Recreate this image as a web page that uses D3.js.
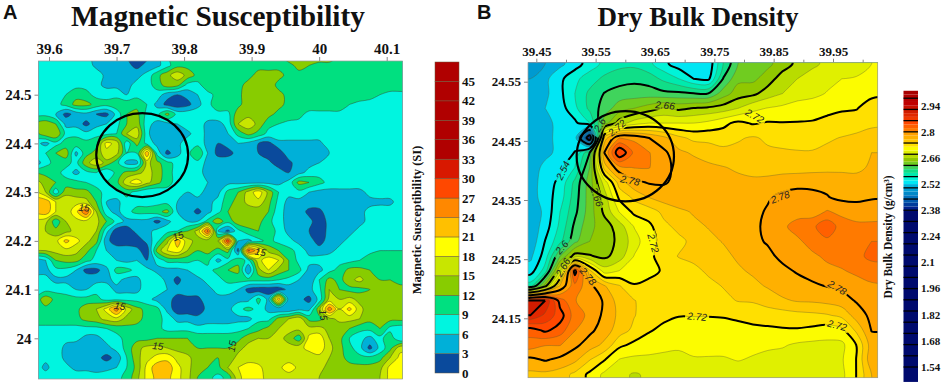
<!DOCTYPE html>
<html>
<head>
<meta charset="utf-8">
<script src="https://cdn.jsdelivr.net/npm/d3@7"></script>
<style>
body { margin: 0; background: #fff; }
text { font-family: "Liberation Serif", serif; font-weight: bold; fill: #111; }
.letter { font-family: "Liberation Sans", sans-serif; }
.clabel { font-family: "Liberation Sans", sans-serif; font-style: italic; font-weight: normal; fill: #222; }
</style>
</head>
<body>
<script>
// magnetic susceptibility (SI)
var lonStartA = 39.58, lonStepA = 0.015, latStartA = 24.58, latStepA = 0.02;
var suscRows = [
[8,8,8,8,8,7,5,5,5,3,2,2,5,9,11,11,11,11,11,11,11,11,11,11,12,14,14,14,14,14,12,11,11,11,11,11,11],
[8,8,8,8,8,8,5,5,5,4,2,4,5,8,11,11,10,10,10,10,10,10,11,11,11,11,13,12,11,11,11,11,11,11,11,11,11],
[8,8,8,8,8,8,8,5,5,5,5,7,11,14,17,14,11,10,10,10,10,11,13,13,13,11,11,11,11,11,11,11,11,11,11,11,11],
[8,8,8,8,8,8,7,5,5,5,7,8,10,14,13,8,8,11,11,11,11,13,14,14,11,11,11,11,11,11,11,11,11,11,11,11,11],
[8,8,8,9,11,10,8,8,8,6,8,8,8,4,3,4,6,8,10,11,11,14,14,14,13,11,11,11,11,11,11,11,11,10,9,8,8],
[8,8,8,10,13,13,11,10,11,11,11,9,5,2,1,2,5,8,11,11,11,14,14,14,13,11,11,11,11,11,11,9,8,8,8,8,8],
[8,8,6,2,4,5,3,2,7,12,13,8,8,13,8,8,8,8,8,8,14,14,14,13,11,11,10,8,8,8,8,8,8,8,8,8,8],
[13,14,12,5,5,2,5,6,8,12,14,7,5,5,6,8,8,5,5,7,15,17,14,10,9,8,8,8,8,8,8,8,8,8,8,8,8],
[11,14,15,8,8,7,8,8,9,15,17,7,3,5,5,5,8,5,5,6,10,13,11,8,8,8,8,8,8,8,8,8,8,8,8,8,8],
[7,5,8,10,11,10,11,19,17,7,13,8,5,5,5,8,8,5,3,4,6,5,3,2,5,5,5,5,5,8,8,8,8,8,8,8,8],
[8,9,12,14,5,11,13,17,16,9,9,24,8,2,5,8,12,6,2,2,4,5,3,1,1,5,5,5,5,6,8,8,8,8,8,8,8],
[4,8,10,10,8,14,17,14,10,5,5,16,13,10,8,7,8,5,5,5,5,5,5,4,1,2,5,5,6,8,8,8,8,8,8,8,8],
[12,11,10,8,5,8,9,6,10,13,14,16,14,10,8,7,7,5,5,5,5,5,5,5,5,3,5,7,8,8,8,8,8,8,8,8,8],
[16,14,12,10,10,9,8,9,11,17,20,16,13,10,8,7,7,6,5,5,5,5,5,5,5,7,13,12,10,8,8,8,8,8,8,8,8],
[19,15,7,14,13,13,10,8,8,10,8,6,6,8,8,6,7,5,5,10,12,16,20,14,9,7,8,6,5,5,5,5,5,7,8,8,8],
[23,23,18,17,17,16,12,6,5,8,8,8,8,8,6,5,5,5,7,11,13,16,17,13,8,5,5,5,5,5,5,5,5,5,5,5,8],
[22,23,18,16,20,27,15,7,5,8,10,10,11,13,6,5,2,5,8,12,13,13,13,12,7,5,5,2,2,5,5,5,5,7,8,8,8],
[17,16,10,15,17,17,16,12,8,5,5,5,2,5,8,6,6,10,14,10,14,14,13,10,7,5,5,4,1,4,5,5,5,7,8,8,8],
[16,15,13,14,16,16,15,7,1,1,4,5,7,8,9,12,16,28,6,2,8,11,12,11,8,5,5,3,1,4,5,5,7,8,8,8,8],
[16,16,17,22,19,16,13,4,1,1,1,4,8,14,23,16,14,13,15,30,6,5,8,10,8,7,5,5,1,5,5,7,8,8,8,8,8],
[15,15,16,17,16,13,9,6,5,5,4,1,13,18,20,15,12,13,11,13,2,28,22,14,12,10,8,5,5,5,7,8,8,8,9,9,9],
[4,6,12,13,13,10,8,8,6,5,6,3,7,10,10,10,9,10,5,8,11,8,17,20,18,12,8,7,7,8,8,8,9,11,11,11,11],
[4,5,8,8,6,2,2,5,10,10,8,7,5,5,5,6,8,8,10,12,13,3,14,18,14,12,10,5,5,8,10,13,13,12,11,11,11],
[8,7,5,5,5,5,5,5,7,5,5,8,8,5,2,5,5,7,8,10,10,10,10,10,9,8,6,3,9,13,11,14,16,13,12,12,11],
[7,8,8,8,6,6,8,8,5,5,5,8,8,6,4,5,5,5,7,7,6,2,1,1,1,4,5,5,8,15,12,11,11,12,12,12,13],
[10,14,11,10,10,10,10,8,8,8,8,7,5,4,2,2,2,5,5,5,5,5,10,5,24,4,4,2,7,16,15,16,14,13,13,13,13],
[11,11,11,11,11,14,15,19,26,17,13,11,10,5,1,1,1,4,5,5,8,10,8,5,3,3,5,5,14,26,18,22,16,13,13,13,13],
[11,11,11,11,11,13,14,16,17,14,13,11,10,8,5,5,4,5,5,5,5,5,8,8,13,15,17,11,11,14,16,16,15,13,13,13,13],
[8,8,8,8,8,8,8,9,10,11,11,11,10,8,8,8,7,7,7,7,8,9,11,13,15,16,16,16,16,14,13,12,10,10,12,8,7],
[8,8,8,7,7,5,5,7,8,10,11,11,12,12,12,12,11,11,11,11,11,14,15,15,16,14,10,19,20,15,13,9,7,5,8,11,6],
[8,8,8,5,4,4,4,5,7,10,14,16,16,15,14,13,12,12,12,12,14,16,16,16,16,16,17,19,20,16,13,10,7,2,7,11,17],
[8,7,8,5,4,4,4,2,4,9,14,17,19,20,17,16,13,12,12,13,16,16,16,16,16,16,16,16,17,15,13,11,10,10,11,15,19],
[8,5,8,7,5,5,5,5,6,9,13,19,23,23,19,16,13,12,11,15,18,20,19,16,17,20,17,16,16,14,13,13,13,13,14,19,20],
[8,8,8,8,8,8,7,8,8,10,14,19,22,22,19,16,12,10,8,10,17,20,20,16,16,16,16,16,15,13,13,13,13,13,15,19,20]
];

// dry bulk density (g/cm3)
var lonStartB = 39.44, lonStepB = 0.025, latStartB = 24.58, latStepB = 0.025;
var densityRows = [
[2.49,2.50,2.515,2.53,2.55,2.565,2.575,2.575,2.565,2.545,2.53,2.522,2.525,2.58,2.62,2.625,2.635,2.65,2.665,2.675,2.685,2.69,2.695,2.70],
[2.50,2.515,2.535,2.555,2.57,2.585,2.59,2.595,2.59,2.575,2.56,2.54,2.535,2.601,2.635,2.635,2.65,2.67,2.68,2.69,2.695,2.70,2.701,2.705],
[2.505,2.515,2.535,2.56,2.585,2.601,2.61,2.61,2.61,2.605,2.605,2.601,2.601,2.63,2.65,2.655,2.67,2.68,2.69,2.695,2.701,2.705,2.71,2.715],
[2.51,2.52,2.53,2.555,2.585,2.61,2.63,2.64,2.65,2.662,2.655,2.661,2.665,2.67,2.68,2.695,2.701,2.705,2.71,2.71,2.715,2.718,2.719,2.73],
[2.51,2.515,2.525,2.535,2.56,2.63,2.67,2.69,2.70,2.70,2.70,2.70,2.705,2.715,2.725,2.718,2.722,2.721,2.721,2.722,2.725,2.727,2.73,2.735],
[2.505,2.515,2.525,2.53,2.39,2.75,2.80,2.795,2.78,2.765,2.745,2.735,2.735,2.73,2.738,2.742,2.737,2.735,2.735,2.735,2.737,2.741,2.745,2.75],
[2.505,2.515,2.525,2.541,2.60,2.781,2.86,2.815,2.801,2.785,2.765,2.757,2.75,2.747,2.745,2.745,2.743,2.742,2.741,2.741,2.745,2.75,2.755,2.76],
[2.51,2.525,2.535,2.56,2.62,2.75,2.795,2.801,2.801,2.785,2.775,2.77,2.765,2.761,2.757,2.755,2.753,2.752,2.752,2.752,2.753,2.755,2.757,2.762],
[2.51,2.53,2.545,2.585,2.63,2.69,2.75,2.775,2.782,2.782,2.775,2.77,2.77,2.765,2.765,2.763,2.765,2.77,2.772,2.775,2.775,2.77,2.765,2.775],
[2.51,2.53,2.55,2.59,2.63,2.67,2.725,2.745,2.761,2.77,2.775,2.775,2.77,2.77,2.77,2.772,2.778,2.785,2.79,2.785,2.781,2.775,2.775,2.778],
[2.505,2.525,2.56,2.595,2.63,2.665,2.701,2.725,2.73,2.745,2.755,2.762,2.765,2.768,2.772,2.775,2.782,2.785,2.79,2.79,2.802,2.795,2.79,2.79],
[2.505,2.53,2.565,2.605,2.635,2.65,2.67,2.701,2.715,2.735,2.745,2.755,2.761,2.765,2.77,2.775,2.785,2.795,2.81,2.815,2.835,2.81,2.805,2.805],
[2.505,2.541,2.575,2.615,2.64,2.65,2.665,2.69,2.715,2.725,2.735,2.745,2.755,2.761,2.77,2.775,2.782,2.79,2.795,2.81,2.815,2.81,2.81,2.82],
[2.515,2.55,2.62,2.67,2.662,2.655,2.67,2.701,2.715,2.73,2.741,2.745,2.75,2.755,2.763,2.77,2.775,2.785,2.79,2.795,2.805,2.81,2.815,2.825],
[2.53,2.57,2.68,2.85,2.745,2.69,2.701,2.705,2.715,2.722,2.73,2.735,2.743,2.75,2.757,2.763,2.77,2.775,2.782,2.787,2.793,2.798,2.805,2.81],
[2.57,2.65,2.76,2.815,2.785,2.761,2.741,2.722,2.725,2.725,2.725,2.73,2.735,2.741,2.747,2.755,2.762,2.77,2.772,2.777,2.781,2.785,2.79,2.797],
[2.90,2.90,2.83,2.801,2.79,2.778,2.75,2.741,2.73,2.725,2.721,2.725,2.73,2.735,2.741,2.742,2.75,2.757,2.762,2.763,2.766,2.772,2.782,2.79],
[2.90,2.875,2.85,2.81,2.795,2.775,2.755,2.741,2.73,2.725,2.721,2.721,2.721,2.722,2.725,2.728,2.728,2.73,2.733,2.735,2.738,2.745,2.77,2.785],
[2.83,2.845,2.83,2.801,2.785,2.77,2.75,2.735,2.722,2.715,2.71,2.71,2.71,2.71,2.712,2.715,2.717,2.718,2.718,2.715,2.71,2.715,2.745,2.781],
[2.81,2.801,2.801,2.785,2.77,2.755,2.725,2.715,2.71,2.705,2.703,2.707,2.707,2.707,2.706,2.705,2.703,2.702,2.697,2.695,2.695,2.695,2.721,2.77],
[2.775,2.782,2.775,2.765,2.741,2.721,2.699,2.695,2.695,2.695,2.695,2.698,2.698,2.698,2.701,2.698,2.695,2.692,2.69,2.69,2.688,2.698,2.721,2.775],
[2.755,2.755,2.75,2.735,2.715,2.695,2.685,2.678,2.683,2.69,2.69,2.69,2.69,2.69,2.69,2.69,2.69,2.69,2.69,2.69,2.69,2.695,2.721,2.76]
];

// colour classes
var levelsA = [0,3,6,9,12,15,18,21,24,27,30,33,36,39,42,45];
var colorsA = ["#0a4a9c","#00b0d8","#00f5e0","#00e080","#88cc00","#c8e600","#ffff00","#ffc000","#ff8800","#ff4800","#d81800","#b00000","#b00000","#b00000","#b00000","#b00000"];
var levelsB = [1.46,2.38,2.40,2.42,2.44,2.46,2.48,2.50,2.52,2.54,2.56,2.58,2.60,2.62,2.64,2.66,2.68,2.70,2.72,2.74,2.76,2.78,2.80,2.82,2.84,2.86,2.88,2.90,2.92,2.94,2.96,2.98,3.00];
var colorsB = ["#000a6e","#00208c","#003c9c","#0058ac","#0070bc","#0088c8","#009ad0","#00b0dc","#00e6f4","#00f4d8","#00eaae","#10de88","#40d45c","#70cc20","#90c800","#b8dc00","#e0f000","#fcfc00","#ffe000","#ffc800","#ffb000","#ffa000","#ff7a00","#ff6000","#ff4800","#f03800","#e02800","#d01c00","#c81000","#c00000","#b80000","#b00000","#a80000"];
var heavyB = [2.42,2.48,2.54,2.60,2.66,2.72,2.78,2.84,2.90,2.96];
var barSepB = [1.54,1.60,1.66,1.72,1.78,1.84,1.90,1.96,2.02,2.08,2.14,2.20,2.26,2.32,2.38,2.44,2.50,2.56,2.62,2.68,2.74,2.80,2.86,2.92,2.98];

// axes
var lonTicksA = [39.6,39.7,39.8,39.9,40,40.1];
var latTicksA = [24.5,24.4,24.3,24.2,24.1,24];
var lonTicksB = [39.45,39.55,39.65,39.75,39.85,39.95];
var lonMinorB = [39.5,39.6,39.7,39.8,39.9,40];
var latTicksB = [24.55,24.45,24.35,24.25,24.15];
var barTicksA = [0,3,6,9,12,15,18,21,24,27,30,33,36,39,42,45];
var barTicksB = [1.54,1.68,1.82,1.96,2.1,2.24,2.38,2.52,2.66,2.8,2.94];

// line labels: lon, lat, angle, text
var labelsA = [
[39.652,24.268,5,"15"],[39.705,24.066,10,"15"],[39.761,23.984,5,"15"],[39.791,24.210,-20,"15"],
[39.913,24.177,10,"15"],[40.006,24.048,80,"15"],[39.871,23.984,-80,"15"]
];
var labelsB = [
[39.495,24.400,-65,"2.54"],[39.586,24.472,-40,"2.72"],[39.667,24.510,5,"2.66"],[39.608,24.383,12,"2.78"],
[39.818,24.492,30,"2.72"],[39.861,24.355,-20,"2.78"],[39.552,24.355,70,"2.66"],[39.493,24.270,-50,"2.6"],
[39.495,24.236,-60,"2.66"],[39.647,24.277,75,"2.72"],[39.537,24.221,50,"2.78"],[39.721,24.153,5,"2.72"],
[39.957,24.202,30,"2.78"],[39.957,24.138,15,"2.72"],[39.557,24.477,-60,"2.6"]
];

var svg = d3.select("body").append("svg").attr("width", 941).attr("height", 385);

var xA = d3.scaleLinear().domain([39.6,40.1]).range([49,386.7]);
var yA = d3.scaleLinear().domain([24.5,24]).range([94.7,338.3]);
var xB = d3.scaleLinear().domain([39.45,39.95]).range([536.3,833]);
var yB = d3.scaleLinear().domain([24.55,24.15]).range([81.7,318.3]);

var smooth = d3.line().curve(d3.curveCatmullRomClosed.alpha(0.5));

// contour rings as a smoothed path, grid gets one repeated cell all round so the edge falls outside the clip
function fieldPaths(rows, levels, lon0, lonStep, lat0, latStep, x, y) {
    var nx = rows[0].length + 2, ny = rows.length + 2;
    var flat = [];
    for (var j = 0; j < ny; j++) {
        var r = rows[Math.min(rows.length - 1, Math.max(0, j - 1))];
        for (var i = 0; i < nx; i++) flat.push(r[Math.min(r.length - 1, Math.max(0, i - 1))]);
    }
    return d3.contours().size([nx, ny]).thresholds(levels)(flat).map(function(c) {
        var d = "";
        c.coordinates.forEach(function(poly) {
            poly.forEach(function(ring) {
                d += smooth(ring.slice(0, -1).map(function(p) {
                    return [x(lon0 + (p[0] - 1.5) * lonStep), y(lat0 - (p[1] - 1.5) * latStep)];
                }));
            });
        });
        return {value: c.value, d: d};
    });
}

function panel(id, box) {
    svg.append("clipPath").attr("id", id).append("rect")
        .attr("x", box[0]).attr("y", box[1]).attr("width", box[2] - box[0]).attr("height", box[3] - box[1]);
    return svg.append("g").attr("clip-path", "url(#" + id + ")");
}

function axes(x, y, lonTicks, latTicks, box, fontSize) {
    var top = svg.append("g").attr("transform", "translate(0," + box[1] + ")")
        .call(d3.axisTop(x).tickValues(lonTicks).tickFormat(String).tickSize(4).tickPadding(3));
    var left = svg.append("g").attr("transform", "translate(" + box[0] + ",0)")
        .call(d3.axisLeft(y).tickValues(latTicks).tickFormat(String).tickSize(4).tickPadding(3));
    [top, left].forEach(function(a) {
        a.select(".domain").remove();
        a.selectAll("line").attr("stroke", "#888");
        a.selectAll("text").style("font-family", '"Liberation Serif", serif').style("font-weight", "bold")
            .style("font-size", fontSize + "px").attr("fill", "#111");
    });
    svg.append("rect").attr("x", box[0]).attr("y", box[1]).attr("width", box[2] - box[0]).attr("height", box[3] - box[1])
        .attr("fill", "none").attr("stroke", "#9a9a9a").attr("stroke-width", 0.7);
}

// Panel A
var boxA = [38.5,61,402.5,379];
var gA = panel("clipA", boxA);
var pathsA = fieldPaths(suscRows, levelsA, lonStartA, lonStepA, latStartA, latStepA, xA, yA);
gA.selectAll("path.fill").data(pathsA).enter().append("path").attr("class", "fill")
    .attr("d", function(d) { return d.d; })
    .attr("fill", function(d, i) { return colorsA[i]; })
    .attr("fill-rule", "evenodd");
gA.selectAll("path.line").data(pathsA.slice(1)).enter().append("path").attr("class", "line")
    .attr("d", function(d) { return d.d; })
    .attr("fill", "none").attr("stroke", "#3a3a2a").attr("stroke-width", 0.45);
gA.selectAll("text").data(labelsA).enter().append("text").attr("class", "clabel")
    .attr("transform", function(d) { return "translate(" + xA(d[0]) + "," + yA(d[1]) + ") rotate(" + d[2] + ")"; })
    .attr("text-anchor", "middle").attr("dy", "0.35em").style("font-size", "10px")
    .text(function(d) { return d[3]; });
gA.append("ellipse").attr("cx", xA(39.738)).attr("cy", yA(24.376))
    .attr("rx", xA(39.738 + 0.068) - xA(39.738)).attr("ry", yA(24.376 - 0.0862) - yA(24.376))
    .attr("fill", "none").attr("stroke", "#000").attr("stroke-width", 2.2);
axes(xA, yA, lonTicksA, latTicksA, boxA, 15);

// Panel B
var boxB = [528,62.7,877.7,377.7];
var gB = panel("clipB", boxB);
var pathsB = fieldPaths(densityRows, levelsB, lonStartB, lonStepB, latStartB, latStepB, xB, yB);
gB.selectAll("path.fill").data(pathsB).enter().append("path").attr("class", "fill")
    .attr("d", function(d) { return d.d; })
    .attr("fill", function(d, i) { return colorsB[i]; })
    .attr("fill-rule", "evenodd");
gB.selectAll("path.line").data(pathsB.slice(1)).enter().append("path").attr("class", "line")
    .attr("d", function(d) { return d.d; })
    .attr("fill", "none").attr("stroke", "#5a5a30").attr("stroke-width", 0.45).attr("stroke-opacity", 0.8);

// holes in the heavy lines where the labels sit
var mask = svg.append("mask").attr("id", "gaps").attr("maskUnits", "userSpaceOnUse")
    .attr("x", 0).attr("y", 0).attr("width", 941).attr("height", 385);
mask.append("rect").attr("width", 941).attr("height", 385).attr("fill", "#fff");
mask.selectAll("rect.gap").data(labelsB).enter().append("rect").attr("class", "gap")
    .attr("x", -12).attr("y", -5).attr("width", 24).attr("height", 10).attr("fill", "#000")
    .attr("transform", function(d) { return "translate(" + xB(d[0]) + "," + yB(d[1]) + ") rotate(" + d[2] + ")"; });
gB.append("g").attr("mask", "url(#gaps)").selectAll("path").data(pathsB.filter(function(d) {
        return heavyB.indexOf(d.value) >= 0;
    })).enter().append("path")
    .attr("d", function(d) { return d.d; })
    .attr("fill", "none").attr("stroke", "#000").attr("stroke-width", 2);
gB.selectAll("text").data(labelsB).enter().append("text").attr("class", "clabel")
    .attr("transform", function(d) { return "translate(" + xB(d[0]) + "," + yB(d[1]) + ") rotate(" + d[2] + ")"; })
    .attr("text-anchor", "middle").attr("dy", "0.35em").style("font-size", "10px")
    .text(function(d) { return d[3]; });
gB.append("ellipse").attr("cx", xB(39.60)).attr("cy", yB(24.424))
    .attr("rx", xB(39.60 + 0.082) - xB(39.60)).attr("ry", yB(24.424 - 0.0763) - yB(24.424))
    .attr("fill", "none").attr("stroke", "#000").attr("stroke-width", 2.2);
axes(xB, yB, lonTicksB, latTicksB, boxB, 13);
svg.append("g").attr("transform", "translate(0," + boxB[1] + ")")
    .call(d3.axisTop(xB).tickValues(lonMinorB).tickFormat("").tickSize(3))
    .call(function(a) { a.select(".domain").remove(); a.selectAll("line").attr("stroke", "#888"); });

// colour bar A
var barA = d3.scaleLinear().domain([0,48]).range([373,62]);
svg.selectAll("rect.barA").data(levelsA).enter().append("rect").attr("class", "barA")
    .attr("x", 435).attr("width", 24)
    .attr("y", function(d) { return barA(d + 3); })
    .attr("height", function(d) { return barA(d) - barA(d + 3); })
    .attr("fill", function(d, i) { return colorsA[i]; })
    .attr("stroke", "#6a5a3a").attr("stroke-width", 0.5);
svg.selectAll("text.tickA").data(barTicksA).enter().append("text").attr("class", "tickA")
    .attr("x", 462).attr("y", function(d) { return barA(d); }).attr("dy", "0.35em")
    .style("font-size", "13px").text(String);
svg.append("text").attr("transform", "translate(421,220) rotate(-90)").attr("text-anchor", "middle")
    .style("font-size", "12.5px").text("Magnetic Susceptibility (SI)");

// colour bar B
var barB = d3.scaleLinear().domain([2.94,1.54]).range([105.7,367]);
var edgesB = levelsB.concat([3.02]);
svg.selectAll("rect.barB").data(levelsB).enter().append("rect").attr("class", "barB")
    .attr("x", 903.5).attr("width", 14.5)
    .attr("y", function(d, i) { return barB(edgesB[i + 1]); })
    .attr("height", function(d, i) { return barB(edgesB[i]) - barB(edgesB[i + 1]); })
    .attr("fill", function(d, i) { return colorsB[i]; });
svg.selectAll("line.sepB").data(barSepB).enter().append("line").attr("class", "sepB")
    .attr("x1", 903.5).attr("x2", 918)
    .attr("y1", function(d) { return barB(d); }).attr("y2", function(d) { return barB(d); })
    .attr("stroke", "#000").attr("stroke-width", 1.3);
svg.selectAll("text.tickB").data(barTicksB).enter().append("text").attr("class", "tickB")
    .attr("x", 921).attr("y", function(d) { return barB(d); }).attr("dy", "0.35em")
    .style("font-size", "11px").text(String);
svg.append("text").attr("transform", "translate(892,237) rotate(-90)").attr("text-anchor", "middle")
    .style("font-size", "11.5px").text("Dry Bulk Density (g/cm³)");

// titles
svg.append("text").attr("x", 218).attr("y", 26.2).attr("text-anchor", "middle").style("font-size", "29.3px").text("Magnetic Susceptibility");
svg.append("text").attr("x", 698).attr("y", 26).attr("text-anchor", "middle").style("font-size", "27px").text("Dry Bulk Density");
svg.append("text").attr("class", "letter").attr("x", 3).attr("y", 19).style("font-size", "20px").text("A");
svg.append("text").attr("class", "letter").attr("x", 477).attr("y", 19).style("font-size", "20px").text("B");
</script>
</body>
</html>
